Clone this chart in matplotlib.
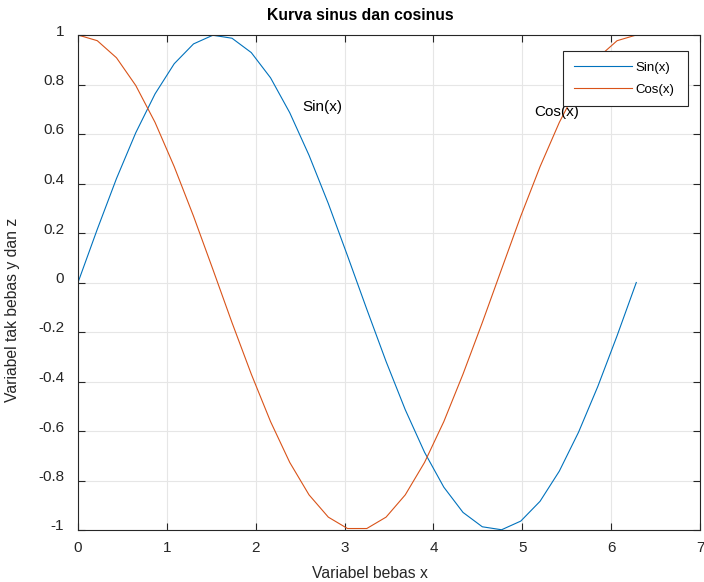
import matplotlib
matplotlib.use("Agg")
import matplotlib.pyplot as plt
import matplotlib.transforms as mtransforms

plt.rcParams['font.family'] = ['Liberation Sans', 'DejaVu Sans']

# Titik sampel (30 titik dari 0 sampai 2*pi)
x = [0.000, 0.217, 0.433, 0.650, 0.867, 1.083, 1.300, 1.517, 1.733, 1.950,
     2.167, 2.383, 2.600, 2.817, 3.033, 3.250, 3.467, 3.683, 3.900, 4.117,
     4.333, 4.550, 4.767, 4.983, 5.200, 5.417, 5.633, 5.850, 6.067, 6.283]
y_sin = [0.000, 0.215, 0.420, 0.605, 0.762, 0.884, 0.964, 0.999, 0.987, 0.929,
         0.827, 0.686, 0.514, 0.319, 0.108, -0.108, -0.319, -0.514, -0.686, -0.827,
         -0.929, -0.987, -0.999, -0.964, -0.884, -0.762, -0.605, -0.420, -0.215, 0.000]
z_cos = [1.000, 0.977, 0.908, 0.796, 0.647, 0.468, 0.268, 0.054, -0.162, -0.370,
         -0.562, -0.727, -0.858, -0.948, -0.994, -0.994, -0.948, -0.858, -0.727, -0.562,
         -0.370, -0.162, 0.054, 0.268, 0.468, 0.647, 0.796, 0.908, 0.977, 1.000]

xticks = [0, 1, 2, 3, 4, 5, 6, 7]
yticks = [-1, -0.8, -0.6, -0.4, -0.2, 0, 0.2, 0.4, 0.6, 0.8, 1]

fig = plt.figure(figsize=(7.04, 5.82), dpi=100)
ax = fig.add_axes([78/704, 1 - 530/582, 622/704, 495/582])

ax.plot(x, y_sin, color="#0072BD", linewidth=0.8, label="Sin(x)")
ax.plot(x, z_cos, color="#D95319", linewidth=0.8, label="Cos(x)")

ax.text(2.52, 0.71, "Sin(x)", fontsize=11, va='center', ha='left')
ax.text(5.13, 0.69, "Cos(x)", fontsize=11, va='center', ha='left')

ax.set_xlim(0, 7)
ax.set_ylim(-1, 1)
ax.set_xticks(xticks)
ax.set_xticklabels([str(t) for t in xticks])
ax.set_yticks(yticks)
ax.set_yticklabels([f"{t:g}" for t in yticks])
ax.grid(True, color="#e6e6e6", linewidth=0.8)
ax.set_axisbelow(True)

ax.tick_params(direction='in', top=True, right=True, length=5, width=0.8,
               colors="#262626", labelsize=11)
ax.tick_params(axis='x', pad=8)
ax.tick_params(axis='y', pad=10)
# label sumbu y sedikit di atas garis tick (gaya MATLAB)
up = mtransforms.ScaledTranslation(0, 5/100, fig.dpi_scale_trans)
for lab in ax.get_yticklabels():
    lab.set_transform(lab.get_transform() + up)

for s in ax.spines.values():
    s.set_color("#262626")
    s.set_linewidth(0.8)

fig.text(360/704, 1 - 15/582, "Kurva sinus dan cosinus", fontsize=11.3,
         fontweight='bold', ha='center', va='center')
fig.text(370/704, 1 - 573/582, "Variabel bebas x", fontsize=11.3,
         ha='center', va='center', color="#262626")
fig.text(13/704, 1 - 310/582, "Variabel tak bebas y dan z", fontsize=11.3,
         rotation=90, ha='center', va='center', color="#262626")

leg = ax.legend(loc='upper left', bbox_to_anchor=(0.7797, 0.5, 0.201, 0.4677),
                mode='expand', fontsize=9.5, fancybox=False, edgecolor="#262626",
                framealpha=1, handlelength=4.4, handletextpad=0.3,
                borderpad=0.8, labelspacing=0.75, borderaxespad=0)
leg.get_frame().set_linewidth(0.8)

plt.savefig("out.png", dpi=100)
